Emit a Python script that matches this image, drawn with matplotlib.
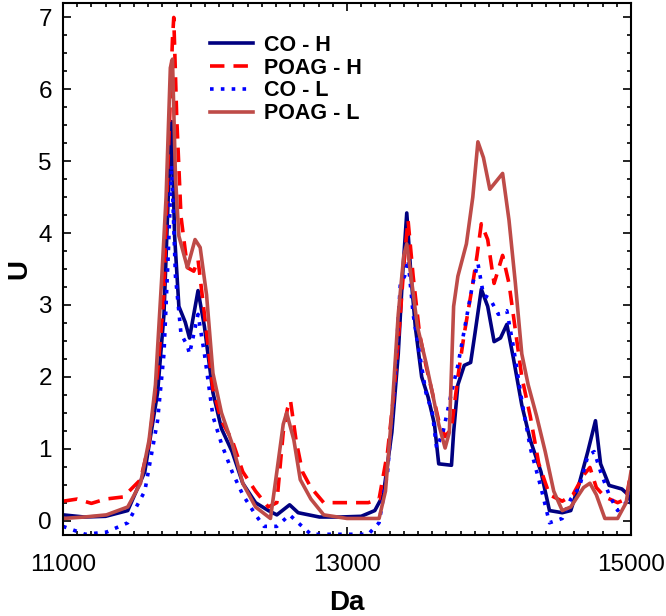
import matplotlib
matplotlib.use("Agg")
import matplotlib.pyplot as plt
from matplotlib.ticker import MultipleLocator

# values (Da, U)
co_h_da = [11000, 11150, 11300, 11456, 11576, 11666, 11711, 11741, 11765, 11786,
           11816, 11861, 11891, 11951, 11996, 12056, 12116, 12191, 12266, 12356,
           12446, 12506, 12596, 12656, 12806, 12950, 13100, 13196, 13256, 13316,
           13361, 13391, 13421, 13451, 13481, 13526, 13571, 13616, 13646, 13736,
           13751, 13781, 13826, 13871, 13901, 13946, 13991, 14036, 14081, 14126,
           14171, 14231, 14291, 14366, 14426, 14516, 14576, 14636, 14696, 14750,
           14786, 14846, 14936, 14981, 15000]
co_h_u = [0.08, 0.05, 0.06, 0.14, 0.68, 1.78, 2.87, 4.5, 5.55, 3.96,
          2.98, 2.76, 2.54, 3.2, 2.7, 1.78, 1.28, 0.96, 0.52, 0.25,
          0.14, 0.08, 0.22, 0.11, 0.05, 0.05, 0.06, 0.14, 0.36, 1.23,
          2.32, 3.4, 4.28, 3.4, 2.7, 2.0, 1.72, 1.34, 0.79, 0.77,
          1.23, 1.89, 2.16, 2.2, 2.6, 3.22, 2.98, 2.49, 2.54, 2.73,
          2.27, 1.61, 1.12, 0.68, 0.14, 0.11, 0.14, 0.52, 0.96, 1.39,
          0.79, 0.49, 0.44, 0.36, 0.25]

poag_h_da = [11000, 11100, 11200, 11300, 11426, 11546, 11606, 11666, 11711, 11741,
             11771, 11780, 11801, 11831, 11876, 11921, 11951, 11996, 12056, 12116,
             12191, 12266, 12356, 12446, 12506, 12551, 12581, 12602, 12641, 12686,
             12746, 12836, 13000, 13150, 13226, 13286, 13331, 13376, 13406, 13430,
             13466, 13511, 13556, 13601, 13646, 13691, 13736, 13781, 13826, 13886,
             13916, 13946, 13991, 14036, 14096, 14141, 14186, 14231, 14291, 14351,
             14426, 14516, 14591, 14666, 14711, 14756, 14816, 14906, 14966, 15000]
poag_h_u = [0.27, 0.3, 0.24, 0.3, 0.33, 0.57, 1.07, 2.05, 3.14, 5.05,
            6.7, 7.0, 5.6, 4.23, 3.52, 3.47, 3.63, 2.87, 1.83, 1.39,
            1.12, 0.68, 0.41, 0.19, 0.25, 1.23, 1.56, 1.67, 1.12, 0.68,
            0.46, 0.25, 0.25, 0.25, 0.3, 0.96, 1.78, 2.87, 3.69, 4.18,
            3.4, 2.6, 2.16, 1.78, 1.39, 1.17, 1.28, 2.0, 2.6, 3.3,
            3.69, 4.13, 3.91, 3.3, 3.69, 3.3, 2.65, 2.0, 1.45, 0.79,
            0.36, 0.27, 0.36, 0.63, 0.74, 0.46, 0.33, 0.25, 0.3, 0.68]

co_l_da = [11000, 11156, 11306, 11456, 11576, 11666, 11711, 11741, 11765, 11792,
           11831, 11876, 11891, 11951, 11996, 12056, 12116, 12191, 12266, 12356,
           12416, 12506, 12596, 12656, 12746, 12950, 13150, 13226, 13286, 13331,
           13376, 13406, 13430, 13466, 13511, 13556, 13601, 13631, 13676, 13736,
           13781, 13826, 13886, 13922, 13961, 14006, 14066, 14126, 14171, 14231,
           14291, 14366, 14426, 14516, 14576, 14636, 14696, 14741, 14786, 14846,
           14906, 14966, 15000]
co_l_u = [-0.08, -0.19, -0.16, -0.03, 0.41, 1.39, 2.32, 3.69, 4.95, 3.4,
          2.6, 2.43, 2.32, 2.87, 2.32, 1.45, 1.07, 0.68, 0.36, 0.08,
          -0.08, -0.08, 0.08, -0.03, -0.19, -0.19, -0.19, -0.03, 0.68, 1.78,
          3.3, 3.4, 3.63, 2.87, 2.32, 1.78, 1.5, 1.01, 1.23, 1.78,
          2.16, 2.65, 3.3, 3.58, 3.14, 3.09, 2.87, 2.92, 2.43, 1.67,
          1.01, 0.46, -0.03, 0.03, 0.3, 0.46, 0.9, 0.96, 0.68, 0.36,
          0.14, 0.25, 0.46]

poag_l_da = [11000, 11150, 11306, 11456, 11546, 11606, 11651, 11696, 11726, 11756,
             11771, 11792, 11816, 11876, 11930, 11966, 12011, 12056, 12116, 12191,
             12266, 12356, 12461, 12506, 12551, 12575, 12626, 12671, 12746, 12836,
             13000, 13226, 13271, 13316, 13361, 13400, 13421, 13451, 13496, 13556,
             13601, 13646, 13691, 13721, 13751, 13781, 13841, 13886, 13922, 13961,
             14006, 14051, 14096, 14141, 14186, 14231, 14276, 14336, 14396, 14456,
             14516, 14576, 14666, 14711, 14756, 14816, 14906, 14966, 15000]
poag_l_u = [0.03, 0.05, 0.08, 0.19, 0.52, 1.12, 1.89, 3.4, 4.5, 6.3,
            6.42, 4.78, 3.96, 3.52, 3.91, 3.8, 3.14, 2.05, 1.5, 1.07,
            0.52, 0.19, 0.03, 0.68, 1.34, 1.5, 1.12, 0.57, 0.3, 0.08,
            0.03, 0.03, 0.41, 1.5, 2.87, 3.69, 3.85, 3.4, 2.7, 2.2,
            1.78, 1.34, 1.01, 1.23, 2.98, 3.4, 3.85, 4.5, 5.27, 5.05,
            4.61, 4.72, 4.83, 4.18, 3.3, 2.32, 1.89, 1.45, 0.96, 0.41,
            0.14, 0.19, 0.46, 0.52, 0.36, 0.03, 0.03, 0.25, 0.68]

labels = ["CO - H", "POAG - H", "CO - L", "POAG - L"]
x_ticks = [11000, 13000, 15000]

plt.rcParams['font.family'] = ['Liberation Sans', 'DejaVu Sans']

fig = plt.figure(figsize=(6.66, 6.16), dpi=100)
ax = fig.add_axes([0.0946, 0.1315, 0.8528, 0.8635])

ax.plot(co_h_da, co_h_u, color='#000080', lw=2.6, label=labels[0])
ax.plot(poag_h_da, poag_h_u, color='#FF0000', lw=2.6, ls=(0, (4, 2.5)), label=labels[1])
ax.plot(co_l_da, co_l_u, color='#0000FF', lw=2.6, ls=(0, (1, 2)), label=labels[2])
ax.plot(poag_l_da, poag_l_u, color='#BE4B48', lw=2.6, label=labels[3])

ax.set_xlim(11000, 15000)
ax.set_ylim(-0.2, 7.2)
ax.set_xticks(x_ticks)
ax.xaxis.set_minor_locator(MultipleLocator(100))
ax.yaxis.set_major_locator(MultipleLocator(1))
ax.yaxis.set_minor_locator(MultipleLocator(0.25))
ax.tick_params(which='both', direction='in', top=True, right=True,
               labelsize=17.5, width=1.2)
ax.tick_params(which='major', length=6)
ax.tick_params(which='minor', length=3)
ax.tick_params(axis='x', which='major', pad=14)
ax.tick_params(axis='y', which='major', pad=8)
for s in ax.spines.values():
    s.set_linewidth(1.5)

ax.set_xlabel("Da", fontsize=20, fontweight='bold', labelpad=10)
ax.set_ylabel("U", fontsize=20, fontweight='bold', labelpad=4)

ax.legend(loc='upper left', bbox_to_anchor=(0.258, 0.94), frameon=False,
          prop={'size': 15.5, 'weight': 'bold'}, handlelength=2.0,
          handletextpad=0.55, labelspacing=0.08, borderpad=0, borderaxespad=0)

plt.savefig("out.png", dpi=100)
